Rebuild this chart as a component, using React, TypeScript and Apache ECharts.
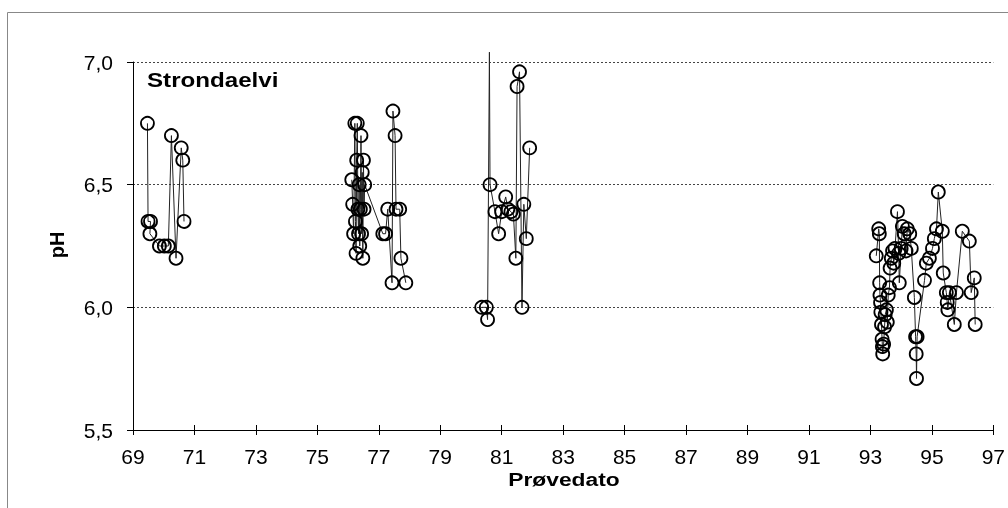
import React, { useEffect, useRef } from "react";
import * as echarts from "echarts";

// Sampling dates (decimal year, 19xx) and pH values
const dates1969 = [69.47, 69.49, 69.57, 69.55, 69.86, 70.02, 70.15, 70.25, 70.40, 70.57, 70.62, 70.66];
const ph1969 = [6.75, 6.35, 6.35, 6.30, 6.25, 6.25, 6.25, 6.70, 6.20, 6.65, 6.60, 6.35];

const dates1976 = [76.12, 76.15, 76.18, 76.22, 76.24, 76.26, 76.28, 76.30, 76.32, 76.34, 76.36, 76.38, 76.40, 76.42, 76.44, 76.46, 76.48, 76.50, 76.52, 76.54,
  77.13, 77.22, 77.29, 77.43, 77.46, 77.53, 77.56, 77.68, 77.72, 77.88];
const ph1976 = [6.52, 6.42, 6.30, 6.75, 6.35, 6.22, 6.60, 6.75, 6.40, 6.30, 6.50, 6.25, 6.40, 6.70, 6.30, 6.55, 6.20, 6.60, 6.40, 6.50,
  6.30, 6.30, 6.40, 6.10, 6.80, 6.70, 6.40, 6.40, 6.20, 6.10];

const dates1980 = [80.35, 80.50, 80.54, 80.60, 80.62, 80.78, 80.90, 81.00, 81.13, 81.20, 81.30, 81.38, 81.46, 81.50, 81.58, 81.66, 81.72, 81.80, 81.91];
const ph1980 = [6.00, 6.00, 5.95, 7.04, 6.50, 6.39, 6.30, 6.39, 6.45, 6.40, 6.39, 6.38, 6.20, 6.90, 6.96, 6.00, 6.42, 6.28, 6.65];
const offScaleDate = 80.60; // value above the axis maximum, drawn only as a line

const dates1993 = [93.19, 93.27, 93.29, 93.30, 93.31, 93.33, 93.34, 93.36, 93.38, 93.39, 93.40, 93.43, 93.46, 93.48, 93.52, 93.55, 93.58, 93.62, 93.64, 93.68,
  93.72, 93.76, 93.80, 93.88, 93.92, 93.94, 94.00, 94.04, 94.10, 94.16, 94.20, 94.28, 94.33, 94.43, 94.47, 94.49, 94.50, 94.52, 94.76, 94.82,
  94.92, 95.02, 95.08, 95.15, 95.21, 95.34, 95.37, 95.47, 95.50, 95.52, 95.57, 95.73, 95.80, 95.99, 96.22, 96.28, 96.38, 96.41];
const ph1993 = [6.21, 6.32, 6.30, 6.10, 6.05, 6.02, 5.98, 5.93, 5.87, 5.84, 5.81, 5.85, 5.92, 5.97, 5.99, 5.94, 6.05, 6.08, 6.16, 6.20,
  6.23, 6.18, 6.24, 6.39, 6.22, 6.10, 6.24, 6.33, 6.30, 6.23, 6.32, 6.30, 6.24, 6.04, 5.88, 5.81, 5.71, 5.88, 6.11, 6.18,
  6.20, 6.24, 6.28, 6.32, 6.47, 6.31, 6.14, 6.06, 6.02, 5.99, 6.06, 5.93, 6.06, 6.31, 6.27, 6.06, 6.12, 5.93];

const yTicks = [5.5, 6.0, 6.5, 7.0];
const xMin = 69;
const xMax = 97;
const stationName = "Strondaelvi";
const yName = "pH";
const xName = "Prøvedato";

const FONT = '"Liberation Sans", Arial, sans-serif';

function toData(dates: number[], vals: number[]) {
  return dates.map((d, i) => {
    if (d === offScaleDate) return { value: [d, vals[i]], symbol: "none" };
    return { value: [d, vals[i]] };
  });
}

export default function App() {
  const ref = useRef<HTMLDivElement>(null);
  useEffect(() => {
    if (!ref.current) return;
    const chart = echarts.init(ref.current, null, { renderer: "svg" });
    const seriesBase = {
      type: "line",
      symbol: "circle",
      symbolSize: 13,
      showSymbol: true,
      showAllSymbol: true,
      clip: false,
      itemStyle: { color: "rgba(255,255,255,0)", borderColor: "#000", borderWidth: 1.8 },
      lineStyle: { color: "#222", width: 1 },
      emphasis: { disabled: true },
      silent: true,
    };
    chart.setOption({
      animation: false,
      grid: { left: 133, right: 14, top: 62, bottom: 78, containLabel: false },
      xAxis: [
        {
          type: "value",
          min: xMin,
          max: xMax,
          interval: 2,
          axisLine: { show: true, lineStyle: { color: "#000", width: 1 } },
          axisTick: { show: true, inside: false, length: 5, lineStyle: { color: "#000" } },
          axisLabel: { color: "#000", fontSize: 21, fontFamily: FONT, margin: 16 },
          splitLine: { show: false },
        },
        {
          type: "value",
          min: xMin,
          max: xMax,
          interval: 2,
          position: "bottom",
          axisLine: { show: false },
          axisTick: { show: true, inside: true, length: 5, lineStyle: { color: "#000" } },
          axisLabel: { show: false },
          splitLine: { show: false },
        },
      ],
      yAxis: {
        type: "value",
        min: yTicks[0],
        max: yTicks[yTicks.length - 1],
        interval: 0.5,
        axisLine: { show: true, lineStyle: { color: "#000", width: 1 } },
        axisTick: { show: true, inside: false, length: 6, lineStyle: { color: "#000" } },
        axisLabel: {
          color: "#000",
          fontSize: 21,
          fontFamily: FONT,
          margin: 20,
          formatter: (v: number) => v.toFixed(1).replace(".", ","),
        },
        splitLine: { show: true, lineStyle: { color: "#444", type: [2, 2], width: 1 } },
      },
      series: [
        { ...seriesBase, data: toData(dates1969, ph1969) },
        { ...seriesBase, data: toData(dates1976, ph1976) },
        { ...seriesBase, data: toData(dates1980, ph1980) },
        { ...seriesBase, data: toData(dates1993, ph1993) },
      ],
      graphic: [
        {
          type: "rect",
          silent: true,
          shape: { x: 7.5, y: 12.5, width: 1010, height: 510 },
          style: { fill: "none", stroke: "#888", lineWidth: 1 },
        },
        {
          type: "text",
          x: 147,
          y: 80,
          scaleX: 1.15,
          silent: true,
          style: { text: stationName, fill: "#000", font: `bold 21px ${FONT}`, textAlign: "left", textVerticalAlign: "middle" },
        },
        {
          type: "text",
          x: 57,
          y: 245,
          rotation: Math.PI / 2,
          silent: true,
          style: { text: yName, fill: "#000", font: `bold 20px ${FONT}`, textAlign: "center", textVerticalAlign: "middle" },
        },
        {
          type: "text",
          x: 564,
          y: 479,
          scaleX: 1.2,
          silent: true,
          style: { text: xName, fill: "#000", font: `bold 19px ${FONT}`, textAlign: "center", textVerticalAlign: "middle" },
        },
      ],
    });
    return () => chart.dispose();
  }, []);
  return <div ref={ref} style={{ position: "fixed", left: 0, top: 0, width: 1008, height: 508 }} />;
}
